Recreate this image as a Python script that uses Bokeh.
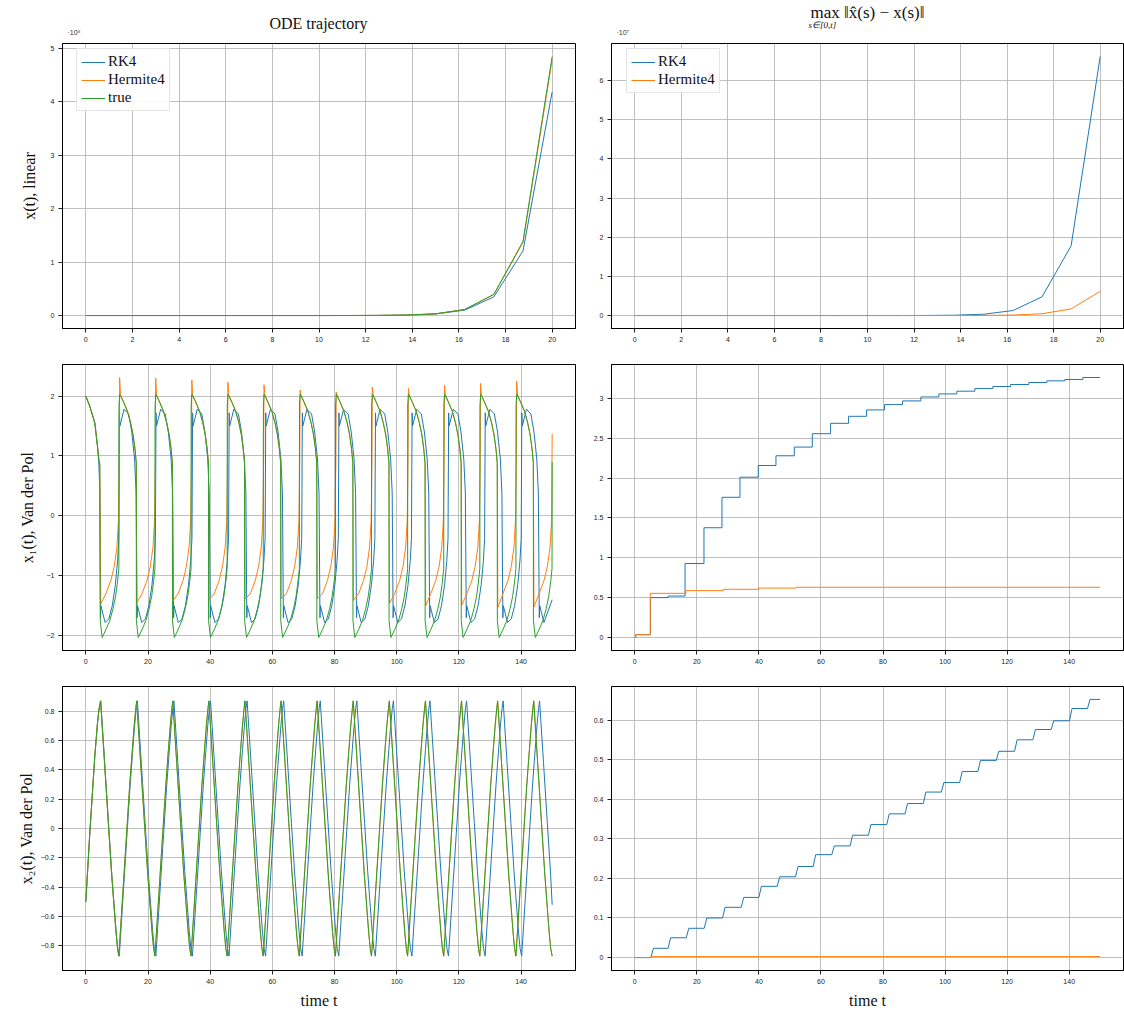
from bokeh.plotting import figure
from bokeh.layouts import gridplot, column
from bokeh.models import Range1d, FixedTicker, CustomJSTickFormatter, Label, Legend, LegendItem
from bokeh.embed import file_html
from bokeh.resources import INLINE

BLUE, ORANGE, GREEN = "#1f77b4", "#ff7f0e", "#2ca02c"

# ---------------- linear test problem ----------------
lin_t = [0, 1.25, 2.5, 3.75, 5, 6.25, 7.5, 8.75, 10, 11.25, 12.5, 13.75, 15, 16.25, 17.5, 18.75, 20]
lin_true = [1.0, 3.49, 12.18, 42.52, 148.4, 518.0, 1808.0, 6311.0, 22026.0, 76880.0, 2.683e5, 9.366e5,
            3.269e6, 1.1409e7, 3.9817e7, 1.3896e8, 4.8517e8]
lin_rk4 = [1.0, 3.458, 11.96, 41.37, 143.1, 494.8, 1711.0, 5919.0, 20469.0, 70792.0, 2.448e5, 8.468e5,
           2.9285e6, 1.0128e7, 3.5028e7, 1.2114e8, 4.1898e8]
lin_herm = [1.0, 3.487, 12.16, 42.41, 147.9, 515.8, 1799.0, 6274.0, 21880.0, 76310.0, 2.661e5, 9.282e5,
            3.237e6, 1.1289e7, 3.9357e7, 1.3726e8, 4.7897e8]
lin_err_rk4 = [0, 0.032, 0.22, 1.15, 5.3, 23.2, 96.7, 392, 1557, 6088, 2.35e4, 8.98e4,
               3.405e5, 1.281e6, 4.789e6, 1.782e7, 6.619e7]
lin_err_herm = [0, 0.003, 0.02, 0.11, 0.5, 2.2, 9.1, 37, 146, 570, 2200, 8400,
                3.2e4, 1.2e5, 4.6e5, 1.7e6, 6.2e6]

# ---------------- Van der Pol, x1 ----------------
vdp_min_t = [5.25, 16.86, 28.47, 40.08, 51.69, 63.30, 74.91, 86.52, 98.13, 109.74, 121.35, 132.96, 144.57]
true_x1_head_t = [0.0, 1.3, 2.9, 3.75, 4.2, 4.5, 4.65]
true_x1_head = [2.00, 1.82, 1.54, 1.15, 0.93, 0.85, -1.75]
true_cyc_dt = [0.0, 1.2, 2.5, 3.5, 4.3, 4.9, 5.38, 5.42, 5.65, 6.85, 8.15, 9.15, 9.95, 10.55, 10.98, 11.01]
true_cyc_x1 = [-2.03, -1.90, -1.74, -1.55, -1.35, -1.12, -0.88, 1.85, 2.03, 1.90, 1.74, 1.55, 1.35, 1.12, 0.88, -1.75]
true_x1_tail = (150.0, 0.90)

herm_x1_head_t = [0.0, 1.3, 2.9, 3.75, 4.2, 4.5]
herm_x1_head = [2.00, 1.83, 1.55, 1.17, 0.95, 0.87]
herm_bottom_dt = -0.45
herm_bottom = [-1.47, -1.45, -1.42, -1.40, -1.39, -1.38, -1.38, -1.41, -1.46, -1.50, -1.49, -1.53, -1.52]
herm_rise_dt = [1.2, 2.8, 3.9, 4.75, 5.25, 5.5]
herm_rise_x1 = [-1.30, -1.08, -0.84, -0.52, -0.08, 0.90]
herm_spike_dt = 5.62
herm_spike = [2.31, 2.30, 2.27, 2.23, 2.19, 2.10, 2.07, 2.15, 2.13, 2.18, 2.21, 2.25]
herm_fall_dt = [5.9, 6.85, 8.15, 9.15, 9.95, 10.55, 10.98]
herm_fall_x1 = [2.02, 1.91, 1.75, 1.56, 1.36, 1.13, 0.89]
herm_x1_tail = (150.0, 1.37)

blue_drop_t = [4.71, 16.48, 28.24, 40.01, 51.78, 63.54, 75.31, 87.07, 98.84, 110.60, 122.37, 134.13, 145.85]
blue_jump_t = [10.81, 22.58, 34.34, 46.11, 57.87, 69.64, 81.41, 93.17, 104.94, 116.70, 128.47, 140.23]
rk4_x1_head_t = [0.0, 1.3, 2.9, 3.75, 4.2, 4.5]
rk4_x1_head = [2.00, 1.83, 1.56, 1.18, 0.86, 0.40]
rk4_after_drop_dt = [0.0, 0.15, 1.5]
rk4_after_drop_x1 = [-1.70, -1.50, -1.78]
rk4_before_jump_dt = [-3.4, -2.3, -1.3, -0.6, -0.2]
rk4_before_jump_x1 = [-1.72, -1.50, -1.15, -0.75, -0.38]
rk4_after_jump_dt = [0.0, 0.15, 1.5]
rk4_after_jump_x1 = [1.72, 1.50, 1.78]
rk4_before_drop_dt = [-2.7, -1.7, -0.8, -0.3]
rk4_before_drop_x1 = [1.70, 1.40, 0.95, 0.38]
rk4_x1_tail = (150.0, -1.40)

# ---------------- Van der Pol, x2 ----------------
x2_amp = 0.87
x2_half_dt = [1.25, 2.5, 3.5, 4.35, 4.95, 5.45]
x2_fall = [0.452, 0.035, -0.296, -0.539, -0.705, -0.818]
x2_rise = [-0.452, -0.035, 0.296, 0.539, 0.705, 0.818]
true_x2_head_t = [0.0, 1.3, 2.9, 3.75, 4.2]
true_x2_head = [-0.50, -0.02, 0.50, 0.72, 0.81]
true_x2_peak_t = [4.75, 16.36, 27.97, 39.58, 51.19, 62.80, 74.41, 86.02, 97.63, 109.24, 120.85, 132.46, 144.07]
true_x2_trough_t = [10.62, 22.23, 33.84, 45.45, 57.06, 68.67, 80.28, 91.89, 103.50, 115.11, 126.72, 138.33, 150.0]
rk4_x2_head_t = [0.0, 1.3, 2.9, 3.75, 4.2]
rk4_x2_head = [-0.50, -0.03, 0.49, 0.71, 0.80]
rk4_x2_peak_t = [4.81, 16.58, 28.34, 40.11, 51.88, 63.64, 75.41, 87.17, 98.94, 110.70, 122.47, 134.23, 145.95]
rk4_x2_trough_t = [10.76, 22.53, 34.29, 46.06, 57.82, 69.59, 81.36, 93.12, 104.89, 116.65, 128.42, 140.18]
rk4_x2_tail = (150.0, -0.52)

# ---------------- running max error ----------------
err1_rk4_t = [0, 0.3, 5.05, 10.75, 16.2, 22.3, 28.1, 33.9, 39.8, 45.5, 51.4, 57.2, 63.1, 68.9, 74.7, 80.5,
              86.3, 92.2, 98.0, 103.8, 109.6, 115.4, 121.1, 127.0, 132.8, 138.6, 144.4, 150]
err1_rk4 = [0, 0.035, 0.50, 0.52, 0.928, 1.377, 1.759, 2.011, 2.158, 2.28, 2.389, 2.557, 2.687, 2.775, 2.855,
            2.922, 2.968, 3.018, 3.056, 3.09, 3.123, 3.149, 3.174, 3.199, 3.22, 3.237, 3.262, 3.262]
err1_herm_t = [0, 0.3, 5.0, 16.5, 28.5, 40.0, 52.0, 150]
err1_herm = [0, 0.035, 0.554, 0.588, 0.605, 0.62, 0.63, 0.63]

err2_rk4_jump_t = [5.2, 10.75, 16.6, 22.4, 28.3, 34.3, 40.0, 45.9, 51.8, 57.5, 63.5, 69.4, 75.3, 81.2, 87.1,
                   93.0, 98.8, 104.7, 110.6, 116.5, 122.4, 128.3, 134.2, 140.1, 145.9]
err2_rk4_levels = [0.0, 0.0235, 0.050, 0.074, 0.100, 0.127, 0.152, 0.180, 0.204, 0.230, 0.260, 0.282, 0.309,
                   0.336, 0.363, 0.389, 0.418, 0.442, 0.470, 0.498, 0.521, 0.550, 0.576, 0.598, 0.629, 0.652]
err2_ramp = 0.8
err2_herm_t = [0, 5.2, 150]
err2_herm = [0, 0.0025, 0.0025]


# ---------------- assemble polylines from the read values ----------------
def clip(ts, vs, limit):
    out_t, out_v = [], []
    for t, v in zip(ts, vs):
        if t < limit:
            out_t.append(t)
            out_v.append(v)
    return out_t, out_v


def add(ts, vs, base, dts, vals):
    for dt, v in zip(dts, vals):
        ts.append(base + dt)
        vs.append(v)


tt, tv = list(true_x1_head_t), list(true_x1_head)
for m in vdp_min_t:
    add(tt, tv, m, true_cyc_dt, true_cyc_x1)
true_x1_t, true_x1 = clip(tt, tv, true_x1_tail[0] - 0.025)
true_x1_t.append(true_x1_tail[0]); true_x1.append(true_x1_tail[1])

ht, hv = list(herm_x1_head_t), list(herm_x1_head)
for k, m in enumerate(vdp_min_t):
    ht.append(m + herm_bottom_dt); hv.append(herm_bottom[k])
    add(ht, hv, m, herm_rise_dt, herm_rise_x1)
    if k < len(herm_spike):
        ht.append(m + herm_spike_dt); hv.append(herm_spike[k])
        add(ht, hv, m, herm_fall_dt, herm_fall_x1)
herm_x1_t, herm_x1 = clip(ht, hv, herm_x1_tail[0] - 0.02)
herm_x1_t.append(herm_x1_tail[0]); herm_x1.append(herm_x1_tail[1])

bt, bv = list(rk4_x1_head_t), list(rk4_x1_head)
for k, d in enumerate(blue_drop_t):
    add(bt, bv, d, rk4_after_drop_dt, rk4_after_drop_x1)
    if k < len(blue_jump_t):
        j = blue_jump_t[k]
        add(bt, bv, j, rk4_before_jump_dt, rk4_before_jump_x1)
        add(bt, bv, j, rk4_after_jump_dt, rk4_after_jump_x1)
        if k + 1 < len(blue_drop_t):
            add(bt, bv, blue_drop_t[k + 1], rk4_before_drop_dt, rk4_before_drop_x1)
rk4_x1_t, rk4_x1 = clip(bt, bv, rk4_x1_tail[0] - 0.02)
rk4_x1_t.append(rk4_x1_tail[0]); rk4_x1.append(rk4_x1_tail[1])


def build_x2(head_t, head_v, peaks, troughs):
    ts, vs = list(head_t), list(head_v)
    for k, pk in enumerate(peaks):
        ts.append(pk); vs.append(x2_amp)
        add(ts, vs, pk, x2_half_dt, x2_fall)
        if k < len(troughs):
            tr = troughs[k]
            ts.append(tr); vs.append(-x2_amp)
            add(ts, vs, tr, x2_half_dt, x2_rise)
    return ts, vs


tt, tv = build_x2(true_x2_head_t, true_x2_head, true_x2_peak_t, true_x2_trough_t)
true_x2_t, true_x2 = clip(tt, tv, 150.001)
bt, bv = build_x2(rk4_x2_head_t, rk4_x2_head, rk4_x2_peak_t, rk4_x2_trough_t)
rk4_x2_t, rk4_x2 = clip(bt, bv, rk4_x2_tail[0] - 0.02)
rk4_x2_t.append(rk4_x2_tail[0]); rk4_x2.append(rk4_x2_tail[1])

e2_t, e2_v = [0.0], [err2_rk4_levels[0]]
for j, tj in enumerate(err2_rk4_jump_t):
    e2_t += [tj, tj + err2_ramp]
    e2_v += [err2_rk4_levels[j], err2_rk4_levels[j + 1]]
e2_t.append(150.0); e2_v.append(err2_rk4_levels[-1])

# ---------------- figures ----------------
FMT_PLAIN = """
var v = Math.round(tick * 1000) / 1000;
return v.toString().replace('-', '\u2212');
"""
FMT_1E8 = "return (tick / 1e8).toFixed(0);"
FMT_1E7 = "return (tick / 1e7).toFixed(0);"


def make_fig(width, height, bl, br, bt_, bb, xr, yr, xticks, yticks, yfmt):
    p = figure(width=width, height=height, x_range=Range1d(*xr), y_range=Range1d(*yr),
               output_backend="svg", toolbar_location=None, tools="", title=None,
               min_border_left=bl, min_border_right=br, min_border_top=bt_, min_border_bottom=bb)
    p.outline_line_color = "black"
    p.outline_line_width = 1
    p.outline_line_alpha = 1
    p.background_fill_color = "white"
    p.border_fill_color = "white"
    p.xaxis.ticker = FixedTicker(ticks=xticks)
    p.yaxis.ticker = FixedTicker(ticks=yticks)
    p.xaxis.formatter = CustomJSTickFormatter(code=FMT_PLAIN)
    p.yaxis.formatter = CustomJSTickFormatter(code=yfmt)
    for ax in (p.xaxis[0], p.yaxis[0]):
        ax.major_tick_out = 4
        ax.major_tick_in = 0
        ax.minor_tick_out = 0
        ax.minor_tick_in = 0
        ax.major_tick_line_color = "#222222"
        ax.axis_line_color = "black"
        ax.major_label_text_font = "Liberation Sans"
        ax.major_label_text_font_size = "7px"
        ax.major_label_text_color = "#222222"
        ax.major_label_standoff = 4
        ax.axis_label_text_font = "Liberation Serif"
        ax.axis_label_text_font_size = "16px"
        ax.axis_label_text_font_style = "normal"
        ax.axis_label_text_color = "#111111"
    p.xgrid.grid_line_color = "#b0b0b0"
    p.ygrid.grid_line_color = "#b0b0b0"
    p.xgrid.grid_line_width = 0.8
    p.ygrid.grid_line_width = 0.8
    return p


def style_legend(p, items, loc):
    lg = Legend(items=items, location=loc)
    lg.label_text_font = "Liberation Serif"
    lg.label_text_font_size = "15px"
    lg.label_text_color = "#111111"
    lg.border_line_color = "#cccccc"
    lg.border_line_width = 1
    lg.background_fill_alpha = 0.9
    lg.margin = 0
    lg.padding = 4
    lg.spacing = 1
    lg.glyph_width = 24
    lg.glyph_height = 16
    lg.label_height = 16
    lg.label_standoff = 3
    p.add_layout(lg)


LW, RW = 581, 543
HEAD_H = 42
X_LIN = (-1, 21)
X_VDP = (-7.5, 157.5)
XT_LIN = [0, 2, 4, 6, 8, 10, 12, 14, 16, 18, 20]
XT_VDP = [0, 20, 40, 60, 80, 100, 120, 140]

# header strip holding the column titles and the axis-offset texts (pixel coordinates)
head = figure(width=LW + RW, height=HEAD_H, x_range=Range1d(0, LW + RW), y_range=Range1d(HEAD_H, 0),
              output_backend="svg", toolbar_location=None, tools="", title=None,
              x_axis_type=None, y_axis_type=None, min_border=0)
head.outline_line_color = None
head.background_fill_color = "white"
head.border_fill_color = "white"
head_texts = [
    ("ODE trajectory", 318, 23, "16px", "Liberation Serif", "center", "normal", "#111111"),
    ("\u00b710\u2078", 67, 32, "7px", "Liberation Sans", "left", "normal", "#333333"),
    ("max \u2016x\u0302(s) \u2212 x(s)\u2016", 867, 12, "17px", "Liberation Serif", "center", "normal", "#111111"),
    ("s\u2208[0,t]", 808, 24, "9px", "Liberation Serif", "left", "italic", "#111111"),
    ("\u00b710\u2077", 616, 32, "7px", "Liberation Sans", "left", "normal", "#333333"),
]
for text, hx, hy, size, font, align, style, color in head_texts:
    head.add_layout(Label(x=hx, y=hy, text=text, text_font=font, text_font_size=size,
                          text_font_style=style, text_color=color, text_align=align,
                          text_baseline="middle"))

# row 1
p1 = make_fig(LW, 316, 62, 6, 1, 30, X_LIN, (-2.426e7, 5.094e8), XT_LIN,
              [0, 1e8, 2e8, 3e8, 4e8, 5e8], FMT_1E8)
r1 = p1.line(lin_t, lin_rk4, color=BLUE, line_width=1)
r2 = p1.line(lin_t, lin_herm, color=ORANGE, line_width=1)
r3 = p1.line(lin_t, lin_true, color=GREEN, line_width=1)
p1.yaxis.axis_label = "x(t), linear"
p1.yaxis.axis_label_standoff = 10
style_legend(p1, [LegendItem(label="RK4", renderers=[r1]), LegendItem(label="Hermite4", renderers=[r2]),
                  LegendItem(label="true", renderers=[r3])], (14, 217))

p2 = make_fig(RW, 316, 30, 1, 1, 30, X_LIN, (-3.31e6, 6.95e7), XT_LIN,
              [0, 1e7, 2e7, 3e7, 4e7, 5e7, 6e7], FMT_1E7)
s1 = p2.line(lin_t, lin_err_rk4, color=BLUE, line_width=1)
s2 = p2.line(lin_t, lin_err_herm, color=ORANGE, line_width=1)
style_legend(p2, [LegendItem(label="RK4", renderers=[s1]), LegendItem(label="Hermite4", renderers=[s2])],
             (15, 235))

# row 2
p3 = make_fig(LW, 322, 62, 6, 6, 30, X_VDP, (-2.247, 2.527), XT_VDP, [-2, -1, 0, 1, 2], FMT_PLAIN)
p3.line(rk4_x1_t, rk4_x1, color=BLUE, line_width=1)
p3.line(herm_x1_t, herm_x1, color=ORANGE, line_width=1)
p3.line(true_x1_t, true_x1, color=GREEN, line_width=1)
p3.yaxis.axis_label = "x\u2081(t), Van der Pol"
p3.yaxis.axis_label_standoff = 8

p4 = make_fig(RW, 322, 30, 1, 6, 30, X_VDP, (-0.163, 3.425), XT_VDP,
              [0, 0.5, 1, 1.5, 2, 2.5, 3], FMT_PLAIN)
p4.step(err1_rk4_t, err1_rk4, mode="after", color=BLUE, line_width=1)
p4.step(err1_herm_t, err1_herm, mode="after", color=ORANGE, line_width=1)

# row 3
p5 = make_fig(LW, 331, 62, 6, 6, 41, X_VDP, (-0.968, 0.968), XT_VDP,
              [-0.8, -0.6, -0.4, -0.2, 0, 0.2, 0.4, 0.6, 0.8], FMT_PLAIN)
p5.line(rk4_x2_t, rk4_x2, color=BLUE, line_width=1)
p5.line(true_x2_t, true_x2, color=ORANGE, line_width=1)   # Hermite4 coincides with true here
p5.line(true_x2_t, true_x2, color=GREEN, line_width=1)
p5.yaxis.axis_label = "x\u2082(t), Van der Pol"
p5.yaxis.axis_label_standoff = 3
p5.xaxis.axis_label = "time t"
p5.xaxis.axis_label_standoff = 5

p6 = make_fig(RW, 331, 30, 1, 6, 41, X_VDP, (-0.0326, 0.6846), XT_VDP,
              [0, 0.1, 0.2, 0.3, 0.4, 0.5, 0.6], FMT_PLAIN)
p6.line(e2_t, e2_v, color=BLUE, line_width=1)
p6.step(err2_herm_t, err2_herm, mode="after", color=ORANGE, line_width=1)
p6.xaxis.axis_label = "time t"
p6.xaxis.axis_label_standoff = 5

grid = gridplot([[p1, p2], [p3, p4], [p5, p6]], toolbar_location=None)
page = column(head, grid, spacing=0)

with open("out.html", "w", encoding="utf-8") as f:
    f.write(file_html(page, INLINE))
